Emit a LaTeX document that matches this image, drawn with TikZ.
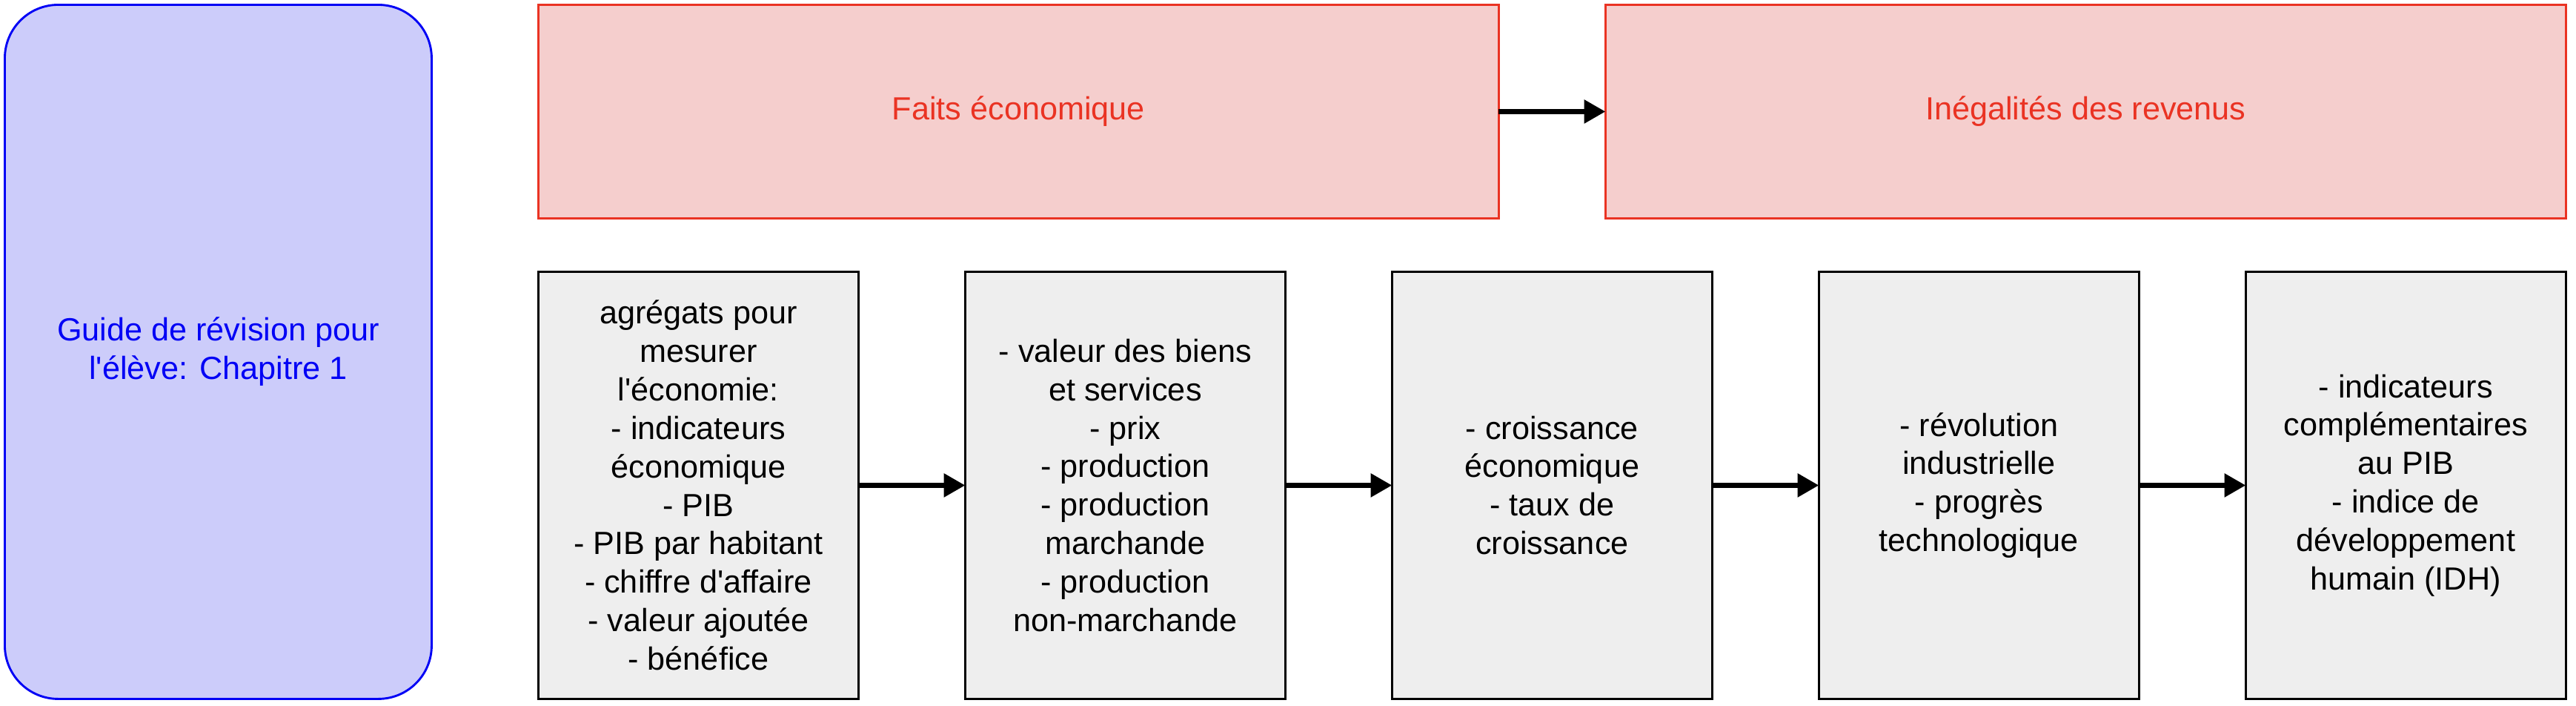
\documentclass[tikz,border=0pt]{standalone}
\usepackage{fontspec}
\setmainfont{Liberation Sans}[Ligatures=TeXOff]
\usetikzlibrary{positioning,arrows.meta}
\definecolor{guideblue}{RGB}{0,0,245}
\definecolor{guidefill}{RGB}{204,204,250}
\definecolor{faitred}{RGB}{234,51,35}
\definecolor{faitfill}{RGB}{245,206,205}
\definecolor{notiongray}{RGB}{238,238,238}

\begin{document}
\begin{tikzpicture}[x=1pt, y=1pt,
  every node/.style={font=\fontsize{12}{14.4}\selectfont, align=center, inner sep=0pt, outer sep=0pt},
  theme/.style={draw=faitred, fill=faitfill, text=faitred, line width=0.8pt, minimum width=360pt, minimum height=80pt},
  notion/.style={draw=black, fill=notiongray, line width=0.8pt, minimum width=120pt, minimum height=160pt},
  link/.style={-{Triangle[length=8pt, width=8.5pt]}, line width=1.9pt}]

  \useasboundingbox (-1.8,1.8) rectangle (963.8,-262.6);

  % guide on the left
  \node[draw=guideblue, fill=guidefill, text=guideblue, line width=0.8pt, rounded corners=20pt,
        minimum width=160pt, minimum height=260pt] (guide) at (80,-130) {Guide de révision pour\\l'élève: Chapitre 1};

  % themes
  \node[theme] (faits) at (380,-40) {Faits économique};
  \node[theme, right=40pt of faits] (inegal) {Inégalités des revenus};

  % notions
  \node[notion] (agregats) at (260,-180) {agrégats pour\\mesurer\\l'économie:\\- indicateurs\\économique\\- PIB\\- PIB par habitant\\- chiffre d'affaire\\- valeur ajoutée\\- bénéfice};
  \node[notion, right=40pt of agregats] (valeur) {- valeur des biens\\et services\\- prix\\- production\\- production\\marchande\\- production\\non-marchande};
  \node[notion, right=40pt of valeur] (croiss) {- croissance\\économique\\- taux de\\croissance};
  \node[notion, right=40pt of croiss] (revol) {- révolution\\industrielle\\- progrès\\technologique};
  \node[notion, right=40pt of revol] (idh) {- indicateurs\\complémentaires\\au PIB\\- indice de\\développement\\humain (IDH)};

  \draw[link] (faits) -- (inegal);
  \draw[link] (agregats) -- (valeur);
  \draw[link] (valeur) -- (croiss);
  \draw[link] (croiss) -- (revol);
  \draw[link] (revol) -- (idh);
\end{tikzpicture}
\end{document}
